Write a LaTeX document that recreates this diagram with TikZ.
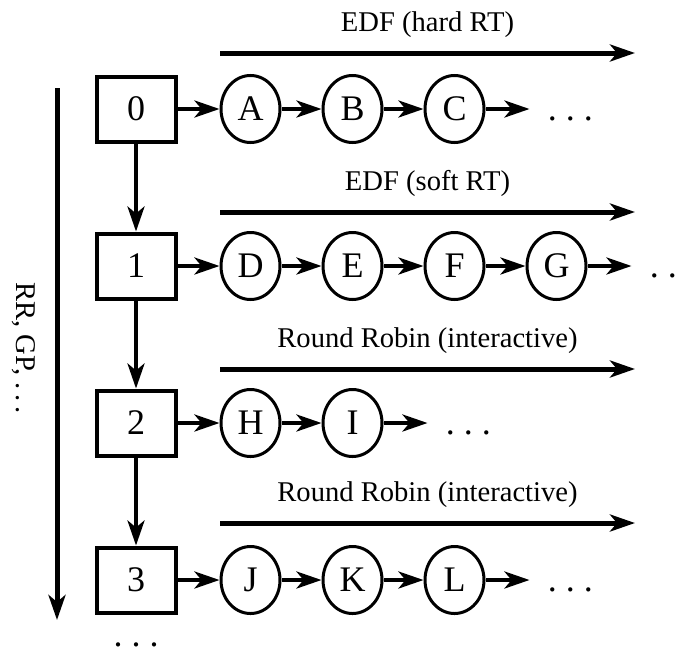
\documentclass[tikz,border=0pt]{standalone}
\usepackage{fontspec}
\setmainfont{Liberation Serif}
\usepackage{tikz}
\usetikzlibrary{arrows.meta,positioning,shapes.geometric}

\begin{document}
\begin{tikzpicture}[x=0.5pt,y=-0.5pt,node distance=44pt and 20pt,>={Stealth[length=12.5pt,width=8.5pt,inset=3.5pt]},
queue/.style={draw,line width=2pt,minimum width=39.5pt,minimum height=32.5pt,inner sep=0pt,font=\fontsize{18}{20}\selectfont},
task/.style={draw,ellipse,line width=1.5pt,minimum width=29.5pt,minimum height=33.5pt,inner sep=0pt,font=\fontsize{18}{20}\selectfont},
more/.style={inner ysep=0pt,inner xsep=9pt,font=\fontsize{18}{20}\selectfont},
flow/.style={->,line width=2pt},
policy/.style={->,line width=2.5pt},
lbl/.style={font=\fontsize{14.3}{16}\selectfont}]
\useasboundingbox (0,0) rectangle (688,648);
\node[queue] (q0) at (136,109) {0};
\node[queue,below=of q0] (q1) {1};
\node[queue,below=of q1] (q2) {2};
\node[queue,below=of q2] (q3) {3};
\node[task,right=21pt of q0] (A) {A};
\node[task,right=of A] (B) {B};
\node[task,right=of B] (C) {C};
\node[more,right=22pt of C] (m0) {.~.~.\vphantom{A}};
\node[task,right=21pt of q1] (D) {D};
\node[task,right=of D] (E) {E};
\node[task,right=of E] (F) {F};
\node[task,right=of F] (G) {G};
\node[more,right=22pt of G] (m1) {.~.~.\vphantom{A}};
\node[task,right=21pt of q2] (H) {H};
\node[task,right=of H] (I) {I};
\node[more,right=22pt of I] (m2) {.~.~.\vphantom{A}};
\node[task,right=21pt of q3] (J) {J};
\node[task,right=of J] (K) {K};
\node[task,right=of K] (L) {L};
\node[more,right=22pt of L] (m3) {.~.~.\vphantom{A}};
\node[more,inner xsep=0pt,below=4pt of q3] (m4) {.~.~.\vphantom{A}};
\draw[flow] (q0)--(q1);
\draw[flow] (q1)--(q2);
\draw[flow] (q2)--(q3);
\draw[flow] (q0)--(A);
\draw[flow] (A)--(B);
\draw[flow] (B)--(C);
\draw[flow] (C)--(m0);
\draw[flow] (q1)--(D);
\draw[flow] (D)--(E);
\draw[flow] (E)--(F);
\draw[flow] (F)--(G);
\draw[flow] (G)--(m1);
\draw[flow] (q2)--(H);
\draw[flow] (H)--(I);
\draw[flow] (I)--(m2);
\draw[flow] (q3)--(J);
\draw[flow] (J)--(K);
\draw[flow] (K)--(L);
\draw[flow] (L)--(m3);
\coordinate (p0s) at (220,53);
\coordinate (p0e) at (635,53);
\coordinate (p1s) at (220,212);
\coordinate (p1e) at (635,212);
\coordinate (p2s) at (220,369);
\coordinate (p2e) at (635,369);
\coordinate (p3s) at (220,523);
\coordinate (p3e) at (635,523);
\draw[policy] (p0s)--node[lbl,above=3pt] (hard) {EDF (hard RT)} (p0e);
\draw[policy] (p1s)--node[lbl,above=3pt] (soft) {EDF (soft RT)} (p1e);
\draw[policy] (p2s)--node[lbl,above=3pt] (rr2) {Round Robin (interactive)} (p2e);
\draw[policy] (p3s)--node[lbl,above=3pt] (rr3) {Round Robin (interactive)} (p3e);
\coordinate (ls) at (57,88);
\coordinate (le) at (57,620);
\draw[policy] (ls)--(le);
\node[lbl,rotate=-90] (prio) at (24,348) {RR, GP, .\,.\,.};
\end{tikzpicture}
\end{document}
